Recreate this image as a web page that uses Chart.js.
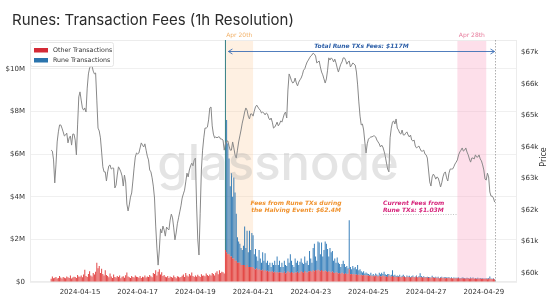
<!DOCTYPE html>
<html>
<head>
<meta charset="utf-8">
<script src="https://cdn.jsdelivr.net/npm/chart.js@4.4.1/dist/chart.umd.min.js"></script>
<style>
  html, body { margin: 0; padding: 0; background: #fff; }
  #feesWrapper { width: 555px; height: 300px; }
</style>
</head>
<body>
<div id="feesWrapper"><canvas id="feesChart"></canvas></div>
<script>
// hourly series, index 0 = 2024-04-14 00:00 UTC
const startDate = Date.UTC(2024, 3, 14);

// fees from non-rune transactions, $k per hour
const otherFeesK = [
  150,260,180,200,230,170,190,280,210,160,240,200,180,260,220,190,300,170,210,250,230,190,330,260,
  250,300,220,350,570,280,240,380,500,310,260,420,350,480,900,640,750,420,620,380,300,550,330,280,
  220,400,260,190,350,240,210,280,230,300,180,250,270,200,320,450,260,220,190,280,240,210,300,250,
  230,200,280,190,250,220,300,210,260,240,330,270,220,420,380,550,300,480,600,350,460,280,330,250,
  220,280,190,260,230,200,310,240,180,270,250,210,230,290,350,240,420,300,260,380,310,450,280,240,
  300,250,340,280,230,360,290,310,270,400,330,280,350,300,420,380,310,440,500,360,550,420,480,460,
  400,1500,1400,1300,1300,1200,1200,1100,1100,1000,1000,900,900,900,800,800,800,800,700,800,700,700,700,700,
  680,620,590,640,570,600,560,540,580,520,560,500,530,480,510,470,500,450,480,440,470,430,460,450,
  450,420,480,400,440,500,460,420,470,430,410,460,440,480,420,450,500,470,430,520,460,440,490,510,
  520,480,550,500,560,530,580,540,510,560,520,490,540,500,470,510,480,450,490,440,420,460,430,400,
  420,390,430,400,380,410,370,390,600,360,380,350,370,340,360,330,350,320,340,310,330,300,320,300,
  300,280,310,270,290,260,300,280,250,290,270,260,310,280,250,270,240,300,260,250,280,240,260,230,
  250,230,260,220,240,270,230,210,250,220,240,200,230,250,210,220,260,200,230,210,240,200,220,210,
  200,220,190,210,180,230,200,190,210,180,200,170,190,210,180,200,170,190,180,200,170,190,160,180,
  170,180,160,190,150,170,180,160,170,150,180,160,150,170,160,180,150,160,140,170,150,160,140,150,
  150,140,160,130,150,170,140,130,150,120
];

// fees from rune transactions, $k per hour (runes launched at the halving)
const runeFeesK = [
  0,0,0,0,0,0,0,0,0,0,0,0,0,0,0,0,0,0,0,0,0,0,0,0,
  0,0,0,0,0,0,0,0,0,0,0,0,0,0,0,0,0,0,0,0,0,0,0,0,
  0,0,0,0,0,0,0,0,0,0,0,0,0,0,0,0,0,0,0,0,0,0,0,0,
  0,0,0,0,0,0,0,0,0,0,0,0,0,0,0,0,0,0,0,0,0,0,0,0,
  0,0,0,0,0,0,0,0,0,0,0,0,0,0,0,0,0,0,0,0,0,0,0,0,
  0,0,0,0,0,0,0,0,0,0,0,0,0,0,0,0,0,0,0,0,0,0,0,0,
  0,13000,6200,5200,4500,3300,3900,2900,3800,3200,2200,1200,1000,900,800,700,900,1800,900,1600,700,1700,800,1600,
  1520,680,960,560,430,900,540,360,820,480,790,400,470,320,390,230,400,350,520,360,730,370,540,250,
  450,280,520,400,310,600,440,880,530,370,290,640,460,520,380,500,600,430,420,680,440,560,310,940,
  580,420,1050,1300,640,470,1320,1310,790,1290,680,1010,1360,1300,1080,690,1120,950,960,560,680,440,720,500,
  430,310,420,600,470,290,380,260,2300,340,220,400,280,360,240,470,200,280,160,140,170,100,130,100,
  80,60,120,50,90,40,100,70,60,140,90,180,70,200,110,60,130,80,50,90,270,60,80,50,
  60,40,80,30,50,70,40,30,60,40,50,30,40,60,30,40,50,30,40,200,40,30,50,30,
  40,30,50,20,30,60,30,20,40,30,50,20,30,40,20,30,50,20,30,40,20,30,20,30,
  30,20,40,20,30,20,30,40,20,30,20,30,20,40,20,30,20,30,20,30,20,30,20,30,
  20,30,20,30,40,90,30,20,30,20
];

// BTC price, $k per hour
const priceK = [
  63.90,63.87,63.59,62.86,63.43,64.16,64.48,64.70,64.70,64.60,64.48,64.35,64.38,64.44,64.13,64.29,64.35,64.06,64.41,64.41,64.22,63.75,64.70,65.59,
  65.75,65.49,65.24,65.17,65.24,65.11,65.87,66.32,66.51,66.57,66.57,66.41,66.32,66.35,65.49,64.60,64.51,64.29,63.84,63.37,63.21,63.21,62.92,63.21,
  63.40,63.43,63.30,63.33,63.33,62.70,62.79,63.11,63.37,63.30,63.21,63.08,62.76,63.11,62.89,62.19,61.97,62.16,62.41,62.54,62.92,63.33,63.68,63.81,
  63.78,63.81,63.97,64.13,64.06,64.00,64.10,63.90,63.71,63.59,63.27,63.21,63.02,62.76,62.38,61.49,60.79,60.25,60.73,61.40,61.27,61.49,61.37,61.17,
  61.46,61.40,61.37,61.68,61.87,61.75,61.43,61.05,61.27,61.56,61.75,61.94,62.13,62.38,62.51,62.63,62.89,63.17,63.05,63.27,63.40,63.49,63.40,63.59,
  63.65,62.16,61.05,60.57,61.90,63.27,63.90,64.29,64.60,64.60,64.63,64.86,65.24,65.27,64.67,64.41,64.29,64.32,64.29,64.32,64.32,64.25,64.25,64.22,
  63.90,64.10,64.19,64.19,64.03,63.90,63.90,64.16,63.97,63.75,63.65,63.90,64.16,64.35,64.54,64.76,64.92,65.11,65.24,65.17,64.98,64.89,65.05,65.05,
  64.98,65.14,65.27,65.33,65.27,65.21,65.17,65.08,65.11,65.08,65.02,65.08,65.05,64.92,64.86,64.92,64.79,64.60,64.63,64.70,64.79,64.67,64.73,64.83,
  64.79,64.92,65.05,65.11,64.92,65.81,66.32,66.22,66.10,66.03,66.06,66.19,66.03,65.94,66.06,66.13,66.19,66.29,66.44,66.48,66.60,66.70,66.76,66.83,
  66.89,66.92,66.98,66.95,66.89,66.67,66.70,66.73,66.54,66.38,66.29,66.16,66.03,66.16,66.44,66.83,66.76,66.83,66.79,66.70,66.79,66.67,66.51,66.38,
  66.51,66.63,66.70,66.83,66.83,66.76,66.63,66.70,66.73,66.54,66.60,66.67,66.63,66.60,66.38,65.97,65.43,64.98,64.70,64.73,64.54,64.16,63.81,64.10,
  64.25,64.29,64.32,64.32,64.35,64.35,64.32,64.22,64.16,64.10,64.00,64.06,64.00,63.87,63.71,63.49,63.30,63.21,64.29,64.60,64.79,64.83,64.73,64.89,
  64.60,64.54,64.44,64.41,64.54,64.38,64.38,64.44,64.48,64.38,64.32,64.38,64.22,64.19,64.22,64.03,63.97,64.00,64.03,63.94,63.87,63.87,63.90,63.78,
  63.75,63.65,63.27,62.89,62.76,63.05,63.14,63.08,62.98,63.05,63.02,62.89,62.73,62.86,63.05,63.17,63.21,63.02,62.92,63.17,63.30,63.30,63.30,63.37,
  63.46,63.52,63.59,63.75,63.84,63.90,63.97,63.87,63.90,63.97,63.84,63.75,63.62,63.52,63.65,63.65,63.62,63.75,63.68,63.68,63.75,63.62,63.56,63.43,
  63.27,62.98,62.95,63.17,63.05,62.57,62.44,62.44,62.38,62.25
];

const xTickHours = [24, 72, 120, 168, 216, 264, 312, 360];
const feeTicksK = [0, 2000, 4000, 6000, 8000, 10000];
const priceTicksK = [60, 61, 62, 63, 64, 65, 66, 67];

// highlighted periods, in hours from start
const halvingSpan = [145, 168];
const apr28Span = [338, 362];
const lastHour = priceK.length - 1;

const tickFont = { family: 'DejaVu Sans', size: 7 };
const textColor = '#333';

function dateLabel(h) {
  return new Date(startDate + h * 3600e3).toISOString().slice(0, 10);
}

const toPoints = arr => arr.map((v, i) => ({ x: i, y: v }));

const decorations = {
  id: 'decorations',
  beforeDatasetsDraw(chart) {
    const { ctx, chartArea: a, scales: { x } } = chart;
    ctx.save();
    let x0 = x.getPixelForValue(halvingSpan[0]), x1 = x.getPixelForValue(halvingSpan[1]);
    ctx.fillStyle = 'rgba(252, 200, 150, 0.28)';
    ctx.fillRect(x0, a.top, x1 - x0, a.bottom - a.top);
    x0 = x.getPixelForValue(apr28Span[0]); x1 = x.getPixelForValue(apr28Span[1]);
    ctx.fillStyle = 'rgba(250, 150, 185, 0.3)';
    ctx.fillRect(x0, a.top, x1 - x0, a.bottom - a.top);
    ctx.strokeStyle = '#ececec';
    ctx.lineWidth = 1;
    ctx.strokeRect(a.left + 0.5, a.top + 0.5, a.right - a.left - 1, a.bottom - a.top - 1);
    ctx.restore();
  },
  afterDatasetsDraw(chart) {
    const { ctx, chartArea: a, scales: { x } } = chart;
    ctx.save();

    // watermark
    ctx.font = '500 49px Inter';
    ctx.fillStyle = 'rgba(170, 170, 170, 0.32)';
    ctx.textAlign = 'center';
    ctx.textBaseline = 'alphabetic';
    ctx.fillText('glassnode', 278, 180);

    // end of data marker
    const xe = Math.round(x.getPixelForValue(lastHour)) + 0.5;
    ctx.strokeStyle = '#999';
    ctx.lineWidth = 0.8;
    ctx.setLineDash([1.5, 1.5]);
    ctx.beginPath(); ctx.moveTo(xe, a.top); ctx.lineTo(xe, a.bottom); ctx.stroke();
    ctx.setLineDash([]);

    // total arrow
    const ay = a.top + 11.5;
    const ax0 = x.getPixelForValue(halvingSpan[0]) + 3, ax1 = xe - 1;
    ctx.strokeStyle = '#3d6fb5';
    ctx.lineWidth = 0.9;
    ctx.beginPath();
    ctx.moveTo(ax0, ay); ctx.lineTo(ax1, ay);
    ctx.moveTo(ax0 + 4, ay - 2.5); ctx.lineTo(ax0, ay); ctx.lineTo(ax0 + 4, ay + 2.5);
    ctx.moveTo(ax1 - 4, ay - 2.5); ctx.lineTo(ax1, ay); ctx.lineTo(ax1 - 4, ay + 2.5);
    ctx.stroke();
    ctx.font = 'italic bold 6px "DejaVu Sans"';
    ctx.fillStyle = '#2d5fa8';
    ctx.textBaseline = 'middle';
    ctx.fillText('Total Rune TXs Fees: $117M', (ax0 + ax1) / 2, ay - 5.5);

    // period labels above plot
    ctx.font = '6px "DejaVu Sans"';
    ctx.fillStyle = '#f2b26a';
    ctx.fillText('Apr 20th', (x.getPixelForValue(halvingSpan[0]) + x.getPixelForValue(halvingSpan[1])) / 2, a.top - 5);
    ctx.fillStyle = '#e77b9c';
    ctx.fillText('Apr 28th', (x.getPixelForValue(apr28Span[0]) + x.getPixelForValue(apr28Span[1])) / 2, a.top - 5);

    // halving annotation
    ctx.font = 'italic bold 6px "DejaVu Sans"';
    ctx.fillStyle = '#f0922e';
    ctx.fillText('Fees from Rune TXs during', 296, 203);
    ctx.fillText('the Halving Event: $62.4M', 296, 210);

    // current fees annotation
    ctx.textAlign = 'left';
    ctx.fillStyle = '#d6237a';
    ctx.fillText('Current Fees from', 383, 203);
    ctx.fillText('Rune TXs: $1.03M', 383, 210);
    ctx.strokeStyle = '#aaa';
    ctx.lineWidth = 0.7;
    ctx.setLineDash([1, 1.5]);
    ctx.beginPath(); ctx.moveTo(383, 214.5); ctx.lineTo(x.getPixelForValue(apr28Span[0]), 214.5); ctx.stroke();
    ctx.setLineDash([]);

    // legend
    ctx.fillStyle = 'rgba(255,255,255,0.9)';
    ctx.strokeStyle = '#e0e0e0';
    ctx.lineWidth = 0.8;
    ctx.beginPath(); ctx.roundRect(30.5, 42.5, 83, 24, 2); ctx.fill(); ctx.stroke();
    const items = chart.data.datasets.filter(d => d.type === 'bar');
    items.forEach((d, i) => {
      const y = 50 + i * 10;
      ctx.fillStyle = d.legendColor;
      ctx.fillRect(34, y - 2, 14, 4.5);
      ctx.fillStyle = textColor;
      ctx.font = '6.3px "DejaVu Sans"';
      ctx.textBaseline = 'middle';
      ctx.fillText(d.label, 53, y);
    });
    ctx.restore();
  },
  afterDraw(chart) {
    const { ctx } = chart;
    ctx.save();
    ctx.fillStyle = '#2b2b2b';
    ctx.font = '15px Inter';
    ctx.textBaseline = 'middle';
    ctx.textAlign = 'left';
    ctx.fillText('Runes: Transaction Fees (1h Resolution)', 12, 20);
    ctx.translate(544, 157);
    ctx.rotate(-Math.PI / 2);
    ctx.textAlign = 'center';
    ctx.fillStyle = textColor;
    ctx.font = '8px "DejaVu Sans"';
    ctx.fillText('Price', 0, 0);
    ctx.restore();
  }
};

const config = {
  data: {
    datasets: [
      {
        type: 'line',
        label: 'Price',
        data: toPoints(priceK),
        yAxisID: 'y1',
        borderColor: '#888',
        borderWidth: 1,
        pointRadius: 0,
        tension: 0,
        order: 0
      },
      {
        type: 'bar',
        label: 'Other Transactions',
        data: toPoints(otherFeesK),
        yAxisID: 'y',
        backgroundColor: 'rgba(222, 42, 42, 0.9)',
        legendColor: '#d42a36',
        barPercentage: 0.8,
        categoryPercentage: 1,
        order: 1
      },
      {
        type: 'bar',
        label: 'Rune Transactions',
        data: toPoints(runeFeesK),
        yAxisID: 'y',
        backgroundColor: ctx => (ctx.raw && ctx.raw.y > 11000) ? '#2c7a80' : 'rgba(31, 112, 178, 0.92)',
        legendColor: '#2a74ad',
        barPercentage: 0.8,
        categoryPercentage: 1,
        order: 1
      }
    ]
  },
  options: {
    responsive: true,
    maintainAspectRatio: false,
    animation: false,
    devicePixelRatio: 1,
    layout: { padding: { top: 40, left: 0, right: 0, bottom: 0 } },
    plugins: { legend: { display: false }, tooltip: { enabled: false }, title: { display: false } },
    scales: {
      x: {
        type: 'linear',
        offset: false,
        min: -17.6,
        max: 387.6,
        stacked: true,
        grid: { display: false, drawTicks: false, offset: false },
        border: { display: false },
        afterBuildTicks: s => { s.ticks = xTickHours.map(v => ({ value: v })); },
        afterFit: s => { s.height = 18; },
        ticks: { callback: v => dateLabel(v), font: tickFont, color: textColor, padding: 6, maxRotation: 0, autoSkip: false }
      },
      y: {
        position: 'left',
        stacked: true,
        min: 0,
        max: 11360,
        afterBuildTicks: s => { s.ticks = feeTicksK.map(v => ({ value: v })); },
        afterFit: s => { s.width = 30; },
        grid: { color: '#ececec', lineWidth: 0.8, drawTicks: false },
        border: { display: false },
        ticks: { callback: v => v === 0 ? '$0' : '$' + (v / 1000) + 'M', font: tickFont, color: textColor, padding: 5 }
      },
      y1: {
        position: 'right',
        min: 59.714,
        max: 67.397,
        afterBuildTicks: s => { s.ticks = priceTicksK.map(v => ({ value: v })); },
        afterFit: s => { s.width = 38; },
        grid: { display: false, drawTicks: false },
        border: { display: false },
        ticks: { callback: v => '$' + v + 'k', font: tickFont, color: textColor, padding: 4 }
      }
    }
  },
  plugins: [decorations]
};

new Chart(document.getElementById('feesChart'), config);
</script>
</body>
</html>
